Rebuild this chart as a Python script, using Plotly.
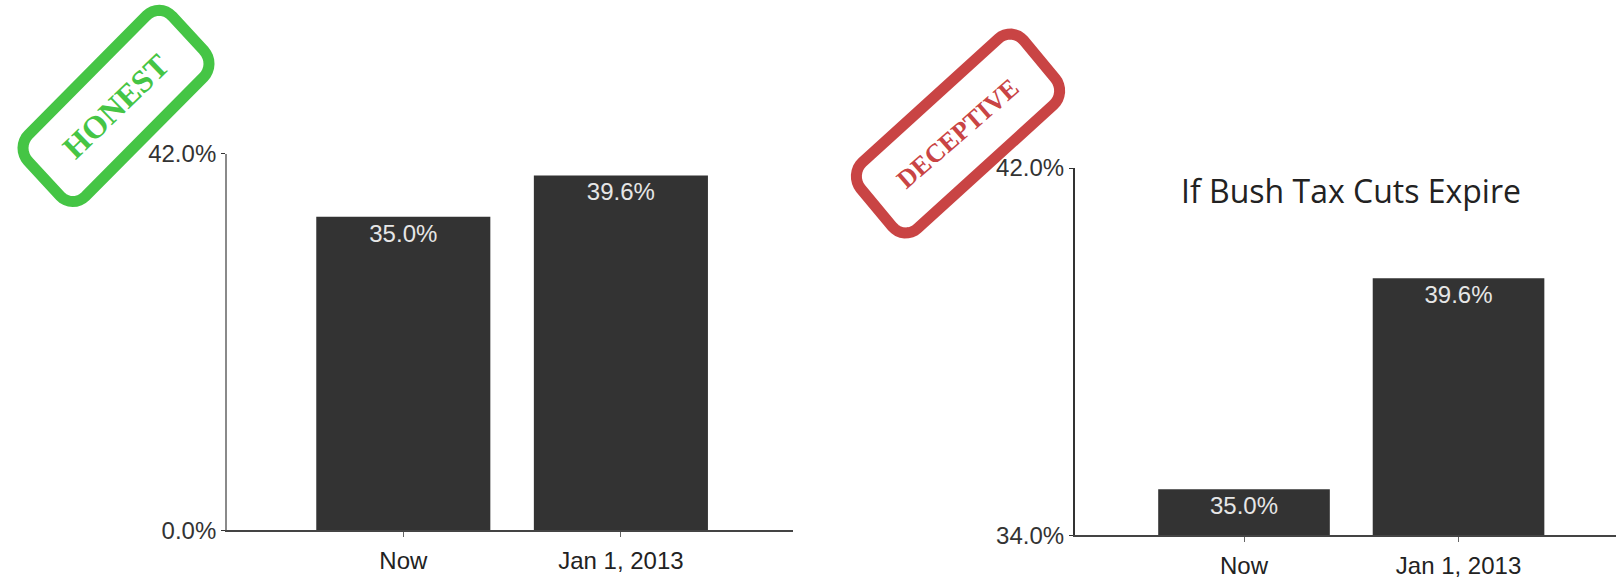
import math
import plotly.graph_objects as go
from plotly.subplots import make_subplots

CATEGORIES = ["Now", "Jan 1, 2013"]
RATES = [35.0, 39.6]
HONEST_TICKS = [0, 42]
DECEPTIVE_TICKS = [34, 42]
TITLE = "If Bush Tax Cuts Expire"

BAR_COLOR = "#333333"
GREEN = "#45c545"
RED = "#c94444"


def stamp_path(w, h, r, angle_deg, yscale=1.045, steps=8):
    # rounded rectangle centred on 0,0 and rotated, in pixels
    pts = []
    corners = [(w / 2 - r, h / 2 - r, 0), (-w / 2 + r, h / 2 - r, 90),
               (-w / 2 + r, -h / 2 + r, 180), (w / 2 - r, -h / 2 + r, 270)]
    for cx, cy, a0 in corners:
        for i in range(steps + 1):
            a = math.radians(a0 + 90 * i / steps)
            pts.append((cx + r * math.cos(a), cy + r * math.sin(a)))
    t = math.radians(angle_deg)
    rot = [(x * math.cos(t) - y * math.sin(t), (x * math.sin(t) + y * math.cos(t)) * yscale) for x, y in pts]
    return "M " + " L ".join(f"{x:.1f},{y:.1f}" for x, y in rot) + " Z"


def pct(ticks):
    return [f"{v:.1f}%" for v in ticks]


fig = make_subplots(rows=1, cols=2)

for col in (1, 2):
    fig.add_bar(
        x=CATEGORIES, y=RATES, marker_color=BAR_COLOR, marker_line_width=0,
        texttemplate="%{y:.1f}%", textposition="inside", insidetextanchor="end",
        textfont=dict(color="#e6e6e6", size=24, family="Liberation Sans"),
        showlegend=False, row=1, col=col
    )

fig.update_layout(
    width=1616, height=579,
    margin=dict(l=0, r=0, t=0, b=0),
    plot_bgcolor="white", paper_bgcolor="white",
    bargap=0.2,
    font=dict(family="Liberation Sans", color="#222222"),
    xaxis=dict(domain=[0.1405, 0.491], range=[-0.81, 1.793]),
    yaxis=dict(domain=[0.063, 0.746], range=[0, 42], tickvals=HONEST_TICKS, ticktext=pct(HONEST_TICKS),
               linecolor="#8a8a8a"),
    xaxis2=dict(domain=[0.6652, 1.0], range=[-0.788, 1.734]),
    yaxis2=dict(domain=[0.054, 0.7205], range=[34, 42], tickvals=DECEPTIVE_TICKS, ticktext=pct(DECEPTIVE_TICKS),
                linecolor="#333333"),
)

fig.update_xaxes(
    showgrid=False, zeroline=False, showline=True, linecolor="#444444", linewidth=2,
    ticks="outside", ticklen=5, tickcolor="#666666", ticklabelstandoff=3,
    tickfont=dict(size=24, color="#222222")
)
fig.update_yaxes(
    showgrid=False, zeroline=False, showline=True, linewidth=2,
    ticks="outside", ticklen=4, tickcolor="#333333",
    ticklabelstandoff=0, tickfont=dict(size=24, color="#333333")
)

fig.add_annotation(
    text=TITLE, xref="paper", yref="paper", x=0.836, y=0.679,
    xanchor="center", yanchor="middle",
    showarrow=False, font=dict(family="Open Sans", size=32, color="#222222")
)

# stamps
for text, color, cx, cy, w, h, ang, size in [
    ("HONEST", GREEN, 116 / 1616, 1 - 96.6 / 579, 200, 82, 44, 32),
    ("DECEPTIVE", RED, 958 / 1616, 1 - 125.6 / 579, 216, 84, 41, 26),
]:
    fig.add_shape(
        type="path", xref="paper", yref="paper", xsizemode="pixel", ysizemode="pixel",
        xanchor=cx, yanchor=cy, path=stamp_path(w, h, 18, ang),
        line=dict(color=color, width=11)
    )
    fig.add_annotation(
        text=f"<b>{text}</b>", xref="paper", yref="paper", x=cx, y=cy,
        xanchor="center", yanchor="middle",
        showarrow=False, textangle=-ang,
        font=dict(family="Liberation Serif", size=size, color=color)
    )

fig.write_html(
    "out.html",
    config={"displayModeBar": False},
    post_script="document.body.style.margin='0';document.documentElement.style.overflow='hidden';"
)
